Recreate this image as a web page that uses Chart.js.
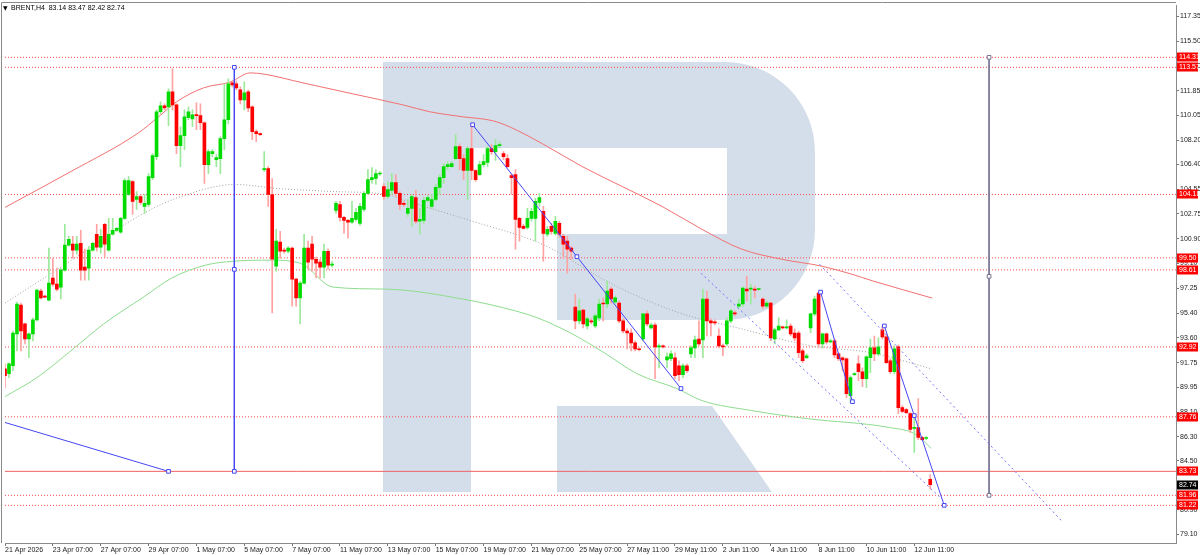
<!DOCTYPE html>
<html>
<head>
<meta charset="utf-8">
<script src="https://cdn.jsdelivr.net/npm/chart.js@4.4.1/dist/chart.umd.min.js"></script>
<style>
html, body { margin: 0; padding: 0; background: #fff; }
#wrap { width: 1200px; height: 555px; }
</style>
</head>
<body>
<div id="wrap"><canvas id="brentChart" width="1200" height="555"></canvas></div>
<script>
// BRENT H4 candles, one entry per bar (bar 0 = 21 Apr 2026)
const opens = [
    91.31, 90.94, 91.53, 93.88, 96.02, 94.62, 93.51, 93.88, 94.92, 97.05,
    96.68, 96.38, 98.01, 97.56, 97.34, 98.59, 100.44, 100.51, 100.07, 100.58,
    98.81, 98.74, 100.07, 101.24, 100.29, 101.98, 100.07, 101.24, 101.53, 101.39,
    102.42, 104.18, 105.14, 103.81, 104.03, 103.30, 103.44, 105.43, 106.98, 110.29,
    110.73, 110.65, 111.76, 110.80, 107.79, 108.53, 109.85, 109.77, 110.07, 110.00,
    109.48, 106.39, 107.20, 106.76, 106.83, 108.31, 109.70, 112.42, 112.35, 111.91,
    111.17, 111.76, 110.65, 108.82, 108.67, 106.02, 106.09, 104.18, 98.89, 100.66,
    100.07, 99.99, 100.22, 97.93, 96.54, 97.63, 100.22, 100.51, 99.40, 99.18,
    98.81, 99.99, 98.96, 103.00, 103.44, 102.49, 102.27, 102.13, 102.34, 102.05,
    103.08, 104.26, 105.28, 105.36, 105.69, 104.77, 104.03, 104.48, 105.06, 104.26,
    103.52, 102.78, 103.15, 103.96, 102.20, 102.27, 103.74, 103.30, 103.81, 104.70,
    105.43, 106.24, 106.24, 106.83, 107.71, 106.83, 105.95, 107.57, 105.95, 105.65,
    106.39, 106.54, 107.57, 107.35, 107.79, 107.20, 106.83, 105.58, 105.65, 102.42,
    101.83, 101.75, 102.42, 102.42, 103.59, 102.93, 101.24, 101.83, 101.31, 102.05,
    101.09, 100.73, 100.22, 95.87, 94.84, 95.65, 94.47, 94.84, 94.47, 95.07,
    96.16, 96.09, 97.19, 96.24, 96.16, 94.84, 94.10, 93.95, 93.22, 92.78,
    93.51, 95.36, 94.32, 94.54, 92.93, 93.00, 91.97, 92.05, 92.12, 91.53,
    90.87, 91.53, 92.41, 92.85, 93.51, 93.44, 96.46, 94.84, 94.77, 93.73,
    93.00, 93.15, 94.84, 95.43, 95.94, 96.09, 97.19, 97.19, 97.19, 97.16,
    96.46, 95.94, 96.16, 93.51, 94.18, 94.40, 94.32, 94.47, 93.95, 93.95,
    92.63, 92.12, 94.32, 95.36, 96.90, 93.15, 93.88, 93.29, 93.37, 92.41,
    92.12, 92.05, 89.32, 90.87, 91.68, 91.09, 90.57, 92.12, 92.85, 92.41,
    94.18, 93.66, 91.90, 91.09, 92.93, 88.44, 88.29, 88.00, 86.90, 86.97,
    86.23, 86.16, 83.14
];
const highs = [
    91.68, 91.75, 94.10, 96.24, 96.16, 94.69, 93.95, 95.07, 97.19, 97.19,
    96.75, 100.22, 99.48, 98.74, 98.74, 101.98, 101.09, 101.09, 101.09, 101.53,
    100.14, 100.36, 100.66, 101.98, 101.61, 102.05, 102.42, 102.42, 101.75, 102.49,
    105.36, 105.51, 105.21, 104.40, 104.18, 104.18, 105.72, 107.20, 110.43, 111.02,
    110.87, 111.99, 113.46, 110.87, 109.18, 110.43, 110.65, 110.43, 110.95, 110.87,
    109.55, 107.49, 107.49, 107.13, 108.45, 112.35, 112.72, 112.50, 112.57, 112.13,
    112.50, 111.91, 110.73, 108.96, 108.74, 107.35, 106.24, 105.36, 101.61, 101.46,
    100.22, 100.36, 100.29, 98.01, 97.78, 101.24, 100.73, 101.09, 99.55, 99.40,
    100.51, 100.14, 99.25, 103.67, 103.67, 102.56, 102.34, 103.67, 103.15, 103.52,
    104.40, 106.02, 106.17, 106.02, 105.87, 104.99, 105.14, 105.72, 105.65, 104.40,
    103.67, 103.81, 104.18, 104.48, 103.15, 103.96, 104.11, 104.18, 104.92, 105.65,
    106.46, 106.61, 106.61, 108.60, 107.93, 107.13, 107.71, 109.33, 106.02, 106.61,
    107.13, 107.71, 107.86, 108.23, 108.08, 107.35, 107.13, 105.72, 106.02, 102.49,
    101.98, 103.15, 103.15, 103.89, 104.26, 103.30, 101.83, 102.05, 102.56, 102.20,
    101.24, 101.09, 100.36, 96.83, 96.46, 95.72, 95.14, 94.99, 95.36, 96.46,
    96.54, 97.78, 97.34, 96.68, 96.31, 94.99, 94.25, 94.25, 93.37, 92.85,
    95.43, 95.58, 94.69, 94.69, 93.15, 93.07, 92.49, 92.63, 92.49, 91.90,
    91.68, 91.68, 93.00, 93.73, 94.84, 97.19, 97.05, 94.99, 94.92, 94.25,
    93.15, 95.07, 95.72, 95.58, 96.46, 97.34, 98.15, 97.56, 97.41, 97.27,
    96.54, 96.31, 96.24, 94.32, 95.07, 94.47, 94.92, 94.62, 94.25, 94.10,
    92.78, 92.41, 95.43, 96.68, 96.97, 93.95, 93.95, 93.51, 93.51, 92.49,
    92.19, 92.12, 90.79, 91.02, 92.27, 91.38, 92.27, 93.51, 93.73, 93.59,
    94.47, 93.88, 92.05, 93.00, 93.07, 88.59, 88.37, 88.07, 87.71, 89.10,
    86.31, 86.31, 83.47
];
const lows = [
    89.92, 90.65, 91.16, 92.63, 92.63, 93.15, 92.12, 93.37, 94.84, 96.46,
    96.54, 96.31, 97.41, 97.05, 96.46, 98.52, 100.37, 99.48, 99.77, 97.85,
    97.85, 97.85, 99.99, 99.99, 99.84, 99.55, 99.99, 101.17, 101.46, 101.31,
    102.34, 104.11, 102.71, 103.08, 103.44, 102.78, 103.30, 105.28, 106.76, 110.14,
    110.43, 109.26, 110.43, 107.20, 106.24, 107.49, 109.70, 109.18, 108.96, 108.96,
    104.99, 105.72, 106.98, 106.24, 105.72, 107.49, 109.40, 112.13, 111.91, 110.87,
    110.43, 110.29, 108.23, 108.08, 108.53, 105.87, 103.30, 95.43, 98.52, 99.48,
    99.84, 99.84, 95.94, 95.94, 94.62, 97.56, 98.67, 98.52, 98.01, 98.01,
    98.01, 98.67, 98.81, 102.78, 102.20, 101.31, 100.95, 102.05, 102.20, 101.90,
    102.93, 104.18, 104.99, 104.92, 105.58, 103.81, 103.89, 104.18, 104.03, 103.08,
    103.30, 102.56, 101.83, 102.05, 101.24, 102.05, 103.67, 103.15, 103.67, 104.18,
    104.99, 106.02, 106.17, 106.76, 106.02, 105.28, 103.81, 105.28, 105.14, 105.58,
    106.24, 106.24, 107.13, 106.69, 107.64, 106.76, 106.17, 104.18, 100.14, 100.73,
    101.61, 101.61, 102.20, 100.73, 103.30, 99.25, 101.09, 101.24, 101.17, 101.02,
    99.48, 98.37, 99.40, 94.25, 94.62, 94.32, 94.25, 94.62, 94.32, 94.84,
    94.84, 95.80, 96.16, 96.16, 94.69, 93.95, 92.78, 92.63, 92.63, 92.63,
    93.37, 94.47, 94.25, 90.57, 91.38, 92.85, 91.38, 91.90, 90.57, 90.43,
    90.65, 91.02, 92.12, 92.12, 93.00, 92.12, 93.73, 93.73, 94.54, 92.85,
    92.27, 93.00, 94.69, 95.21, 95.80, 95.94, 96.31, 96.09, 96.54, 97.12,
    95.72, 95.80, 93.37, 93.15, 94.10, 94.25, 94.25, 93.73, 93.37, 92.12,
    91.75, 92.05, 93.95, 95.21, 92.85, 92.85, 93.15, 93.22, 92.12, 91.90,
    91.16, 89.18, 88.81, 90.79, 90.43, 89.99, 89.92, 91.02, 91.90, 92.27,
    93.51, 91.68, 90.94, 90.94, 88.00, 88.07, 88.00, 86.60, 85.13, 86.08,
    86.01, 86.08, 82.42
];
const closes = [
    90.79, 91.68, 93.95, 96.09, 94.10, 93.51, 93.88, 94.92, 97.12, 96.54,
    96.60, 97.63, 97.56, 97.19, 98.59, 100.44, 100.87, 100.07, 100.51, 98.59,
    98.59, 100.07, 100.58, 100.29, 101.09, 100.51, 101.24, 101.53, 101.68, 102.42,
    105.21, 105.21, 103.67, 104.03, 103.59, 103.52, 105.50, 107.06, 110.29, 110.73,
    110.58, 111.76, 110.80, 107.79, 108.53, 109.92, 110.29, 110.07, 110.00, 109.48,
    106.39, 107.35, 107.35, 106.91, 108.31, 109.70, 112.35, 112.27, 112.05, 111.17,
    111.69, 110.58, 108.82, 108.67, 108.60, 106.09, 104.18, 99.40, 100.73, 99.99,
    99.99, 100.22, 97.93, 96.54, 97.63, 100.22, 99.18, 99.40, 99.11, 98.81,
    99.99, 98.96, 99.03, 103.52, 102.49, 102.27, 102.13, 102.42, 102.86, 103.30,
    104.26, 105.28, 105.43, 105.72, 105.72, 104.03, 104.55, 105.06, 104.26, 103.44,
    103.44, 103.15, 104.03, 102.20, 102.34, 103.74, 103.96, 103.81, 104.70, 105.43,
    106.24, 106.39, 106.46, 107.71, 106.83, 105.95, 107.57, 105.95, 105.28, 106.39,
    106.61, 107.57, 107.35, 107.79, 107.86, 106.98, 106.24, 105.43, 102.34, 101.75,
    101.68, 102.42, 102.93, 103.67, 103.96, 101.31, 101.61, 101.46, 102.20, 101.24,
    100.51, 100.14, 99.99, 94.84, 95.58, 94.62, 94.99, 94.77, 95.21, 96.09,
    96.09, 97.05, 96.46, 96.54, 94.84, 94.10, 93.95, 93.22, 92.78, 92.71,
    95.36, 94.62, 94.54, 92.93, 93.00, 92.93, 92.19, 92.41, 90.79, 90.87,
    91.53, 91.16, 92.85, 93.44, 93.15, 96.46, 94.84, 94.69, 94.69, 93.00,
    92.93, 94.84, 95.58, 95.36, 96.09, 97.27, 97.05, 97.27, 97.12, 97.19,
    95.94, 96.16, 93.59, 94.18, 94.47, 94.32, 94.40, 93.88, 93.59, 92.49,
    91.90, 92.27, 95.36, 96.46, 93.15, 93.88, 93.29, 93.37, 92.34, 92.05,
    91.97, 89.47, 90.65, 90.94, 91.09, 90.57, 92.19, 92.85, 92.41, 92.93,
    93.66, 91.75, 91.09, 92.78, 88.44, 88.15, 88.07, 86.82, 86.97, 86.23,
    86.08, 86.23, 82.74
];

// axis ticks
const xTickBars = [0, 12, 24, 36, 48, 60, 72, 84, 96, 108, 120, 132, 144, 156, 168, 180, 192, 204, 216, 228];
const xTickLabels = ['21 Apr 2026', '23 Apr 07:00', '27 Apr 07:00', '29 Apr 07:00', '1 May 07:00', '5 May 07:00',
    '7 May 07:00', '11 May 07:00', '13 May 07:00', '15 May 07:00', '19 May 07:00', '21 May 07:00', '25 May 07:00',
    '27 May 11:00', '29 May 11:00', '2 Jun 11:00', '4 Jun 11:00', '8 Jun 11:00', '10 Jun 11:00', '12 Jun 11:00'];
const yTickValues = [79.10, 80.90, 82.70, 84.50, 86.30, 88.10, 89.95, 91.75, 93.60, 95.40, 97.25, 99.10,
    100.90, 102.75, 104.55, 106.40, 108.20, 110.05, 111.85, 113.70, 115.50, 117.35];

// price levels
const dottedLevels = [114.31, 113.57, 104.18, 99.50, 98.61, 92.92, 87.76, 81.96, 81.22];
const solidLevel = 83.73;
const lastPrice = 82.74;

// moving averages, [bar, price]
const maRed = [[0, 103.23], [16.5, 105.87], [33.5, 108.74], [38.5, 109.92], [43, 111.02], [49.75, 112.05],
    [56.5, 112.49], [61.5, 113.16], [64.75, 113.08], [74.75, 112.42], [87.25, 111.61], [99.75, 110.80],
    [106.5, 110.29], [114.75, 109.92], [122.25, 109.63], [126.5, 109.18], [134.75, 107.93], [144.75, 106.24],
    [154.75, 104.77], [164.75, 103.30], [174.75, 101.61], [184.75, 100.14], [194.75, 99.40], [204.75, 98.89],
    [212.25, 98.30], [217.75, 97.78], [232.5, 96.53]];
const maGray = [[0, 96.16], [17.25, 99.43], [34.75, 102.79], [44.25, 104.04], [57.75, 104.92], [68.5, 104.62],
    [82.25, 104.40], [95.5, 104.18], [101, 103.67], [117.25, 102.20], [134.75, 100.50], [152.25, 97.56],
    [168.5, 95.50], [184.75, 94.25], [202.25, 93.00], [217.25, 92.49], [232.25, 91.31]];
const maGreen = [[0, 89.25], [8, 90.65], [16.5, 92.63], [24.75, 94.62], [34.75, 96.61], [41.75, 98.00],
    [50.25, 98.96], [57.25, 99.25], [66.75, 99.33], [74, 99.11], [82.25, 97.34], [95.5, 97.19], [114.75, 96.46],
    [128, 95.58], [133.5, 95.07], [141.75, 93.96], [150.25, 92.49], [158.5, 90.94], [168.5, 89.84],
    [174.75, 88.96], [187.25, 88.22], [201, 87.63], [221.75, 86.97], [228.5, 86.45], [232.25, 85.42]];

// drawn objects, [bar, price]
const trendOne = [[0, 87.34], [41, 83.73]];
const rangeOne = [[57.5, 113.57], [57.5, 98.65], [57.5, 83.73]];
const trendTwo = [[117.25, 109.33], [143.4, 99.59], [169.5, 89.85]];
const trendThree = [[204.5, 96.97], [212.5, 88.88]];
const trendFour = [[220.5, 94.47], [228, 87.85], [235.5, 81.22]];
const channelLow = [[174.5, 98.37], [235.25, 81.60]];
const channelHigh = [[204.25, 99.03], [265.25, 79.98]];
const rangeTwo = [[246.75, 114.31], [246.75, 98.135], [246.75, 81.96]];

const FONT = '"Liberation Sans", Arial, sans-serif';
const xMax = 293.625;
const yMin = 78.44;
const yMax = 118.16;

const bull = closes.map((c, i) => c >= opens[i]);

function pts(arr) {
    return arr.map(p => ({ x: p[0], y: p[1] }));
}

function lineSet(arr, color, extra) {
    return Object.assign({
        type: 'line',
        data: pts(arr),
        borderColor: color,
        borderWidth: 1,
        pointRadius: 0,
        fill: false,
        tension: 0
    }, extra || {});
}

function markerSet(arr, color, radii, extra) {
    return lineSet(arr, color, Object.assign({
        pointStyle: 'rect',
        pointRadius: radii,
        pointBorderWidth: 1,
        pointBorderColor: color,
        pointBackgroundColor: '#ffffff',
        order: 0
    }, extra || {}));
}

const watermark = {
    id: 'watermark',
    beforeDatasetsDraw(chart) {
        const { ctx, chartArea: a } = chart;
        ctx.save();
        ctx.beginPath();
        ctx.rect(a.left, a.top, a.right - a.left, a.bottom - a.top);
        ctx.clip();
        ctx.fillStyle = '#d4deea';
        ctx.beginPath();
        ctx.moveTo(383, 62);
        ctx.lineTo(725, 62);
        ctx.arc(725, 152, 90, -Math.PI / 2, 0);
        ctx.lineTo(815, 230);
        ctx.arc(725, 230, 90, 0, Math.PI / 2);
        ctx.lineTo(557, 320);
        ctx.lineTo(557, 234);
        ctx.lineTo(727, 234);
        ctx.lineTo(727, 148);
        ctx.lineTo(471, 148);
        ctx.lineTo(471, 492);
        ctx.lineTo(383, 492);
        ctx.closePath();
        ctx.moveTo(557, 406);
        ctx.lineTo(712, 406);
        ctx.lineTo(772, 492);
        ctx.lineTo(557, 492);
        ctx.closePath();
        ctx.fill();
        ctx.restore();
    }
};

const frame = {
    id: 'frame',
    afterDraw(chart) {
        const { ctx, chartArea: a } = chart;
        const yScale = chart.scales.y;
        ctx.save();
        // left and top border
        ctx.strokeStyle = '#8a8a8a';
        ctx.lineWidth = 1;
        ctx.beginPath();
        ctx.moveTo(1.5, a.bottom);
        ctx.lineTo(1.5, 2.5);
        ctx.lineTo(a.right, 2.5);
        ctx.stroke();

        // header
        ctx.fillStyle = '#000';
        ctx.textBaseline = 'middle';
        ctx.font = '6px "DejaVu Sans"';
        ctx.fillText('\u25BC', 3, 8);
        ctx.font = '7px ' + FONT;
        ctx.fillText('BRENT,H4  83.14 83.47 82.42 82.74', 11, 8);

        // price labels on the right
        const tag = (v, bg) => {
            const y = Math.round(yScale.getPixelForValue(v));
            ctx.fillStyle = bg;
            ctx.fillRect(a.right + 1, y - 4.5, 21, 9);
            ctx.fillStyle = '#fff';
            ctx.font = '7px ' + FONT;
            ctx.textAlign = 'left';
            ctx.fillText(v.toFixed(2), a.right + 3, y + 0.5);
        };
        dottedLevels.forEach(v => tag(v, '#ff0000'));
        tag(solidLevel, '#ff0000');
        tag(lastPrice, '#000000');
        ctx.restore();
    }
};

const datasets = [
    {
        type: 'bar',
        data: opens.map((o, i) => ({ x: i, y: [o, closes[i]] })),
        backgroundColor: bull.map(b => b ? '#00dc00' : '#ff0000'),
        barThickness: 3,
        minBarLength: 1,
        grouped: false,
        order: 1
    },
    {
        type: 'bar',
        data: lows.map((l, i) => ({ x: i, y: [l, highs[i]] })),
        backgroundColor: bull.map(b => b ? '#9be99b' : '#ffa2a2'),
        barThickness: 1,
        grouped: false,
        order: 2
    },
    lineSet(maRed, '#f27070', { cubicInterpolationMode: 'monotone', order: 4 }),
    lineSet(maGreen, '#8edc8e', { cubicInterpolationMode: 'monotone', order: 4 }),
    lineSet(maGray, '#a0a0a0', { cubicInterpolationMode: 'monotone', borderDash: [1, 2], order: 4 })
];

dottedLevels.forEach(v => {
    datasets.push(lineSet([[0, v], [xMax, v]], '#ff4a4a', { borderDash: [1, 2], order: 5 }));
});
datasets.push(lineSet([[0, solidLevel], [xMax, solidLevel]], '#f26262', { order: 5 }));

datasets.push(lineSet(channelLow, '#7474ff', { borderDash: [2, 3], order: 0 }));
datasets.push(lineSet(channelHigh, '#7474ff', { borderDash: [2, 3], order: 0 }));
datasets.push(markerSet(trendOne, '#4646f5', [0, 2.6]));
datasets.push(markerSet(rangeOne, '#4646f5', 2.6));
datasets.push(markerSet(trendTwo, '#4646f5', 2.6));
datasets.push(markerSet(trendThree, '#4646f5', 2.6));
datasets.push(markerSet(trendFour, '#4646f5', 2.6));
datasets.push(markerSet(rangeTwo, '#7a7494', 2.6));

new Chart(document.getElementById('brentChart').getContext('2d'), {
    type: 'bar',
    data: { datasets: datasets },
    options: {
        responsive: false,
        animation: false,
        devicePixelRatio: 1,
        events: [],
        layout: { padding: { left: 1.5, top: 3, right: 0, bottom: 0 } },
        plugins: {
            legend: { display: false },
            tooltip: { enabled: false }
        },
        scales: {
            x: {
                type: 'linear',
                min: 0,
                max: xMax,
                offset: false,
                afterBuildTicks: scale => {
                    scale.ticks = xTickBars.map(v => ({ value: v }));
                },
                afterFit: scale => { scale.height = 12; },
                ticks: {
                    autoSkip: false,
                    maxRotation: 0,
                    minRotation: 0,
                    align: 'start',
                    padding: 0,
                    color: '#222',
                    font: { family: FONT, size: 7 },
                    callback: (value, index) => xTickLabels[index]
                },
                grid: { drawOnChartArea: false, drawTicks: true, tickLength: 3, tickColor: '#777', offset: false },
                border: { display: true, color: '#8a8a8a' }
            },
            y: {
                type: 'linear',
                position: 'right',
                min: yMin,
                max: yMax,
                afterBuildTicks: scale => {
                    scale.ticks = yTickValues.map(v => ({ value: v }));
                },
                afterFit: scale => { scale.width = 24; },
                ticks: {
                    autoSkip: false,
                    padding: 1,
                    color: '#222',
                    font: { family: FONT, size: 7 },
                    callback: value => value.toFixed(2)
                },
                grid: { drawOnChartArea: false, drawTicks: true, tickLength: 3, tickColor: '#777' },
                border: { display: true, color: '#8a8a8a' }
            }
        }
    },
    plugins: [watermark, frame]
});
</script>
</body>
</html>
